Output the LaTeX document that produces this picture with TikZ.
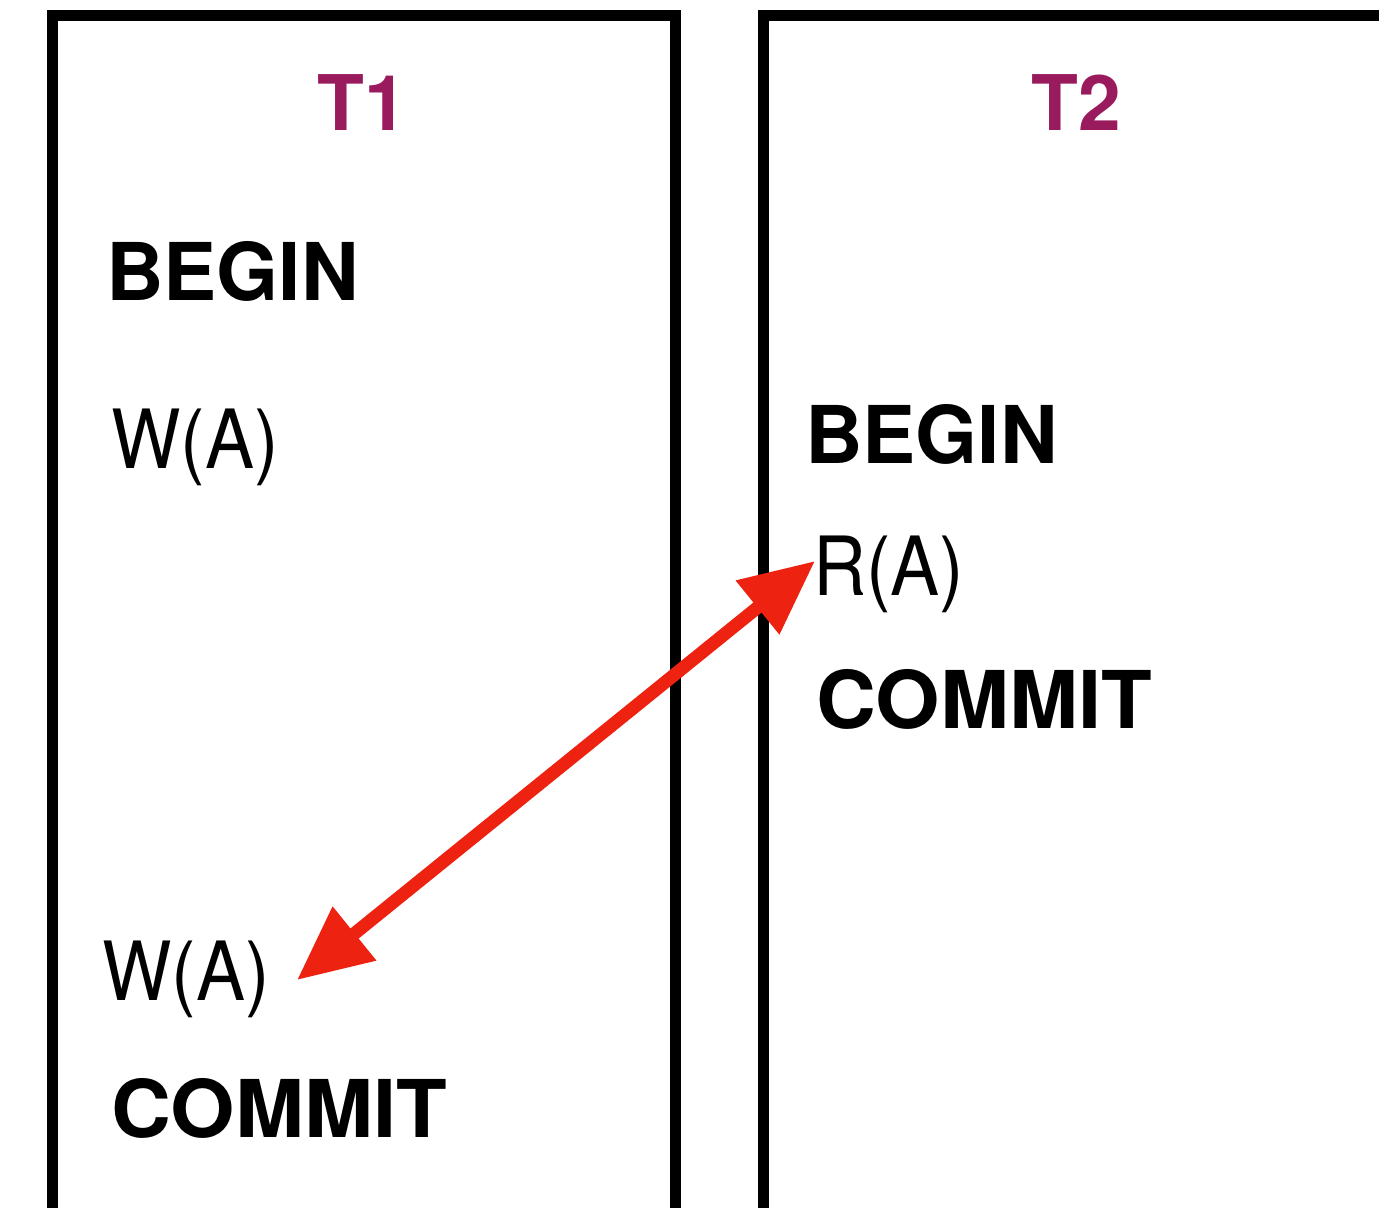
\documentclass[tikz,border=0pt]{standalone}
\usepackage{fontspec}
\setmainfont{TeX Gyre Heros}
\newfontfamily\narrowreg[FakeStretch=0.9]{TeX Gyre Heros}
\newfontfamily\widebold[FakeStretch=1.04]{TeX Gyre Heros}
\usetikzlibrary{arrows.meta}
\definecolor{tpurple}{RGB}{154,26,94}
\definecolor{ared}{RGB}{238,34,17}
\begin{document}
\begin{tikzpicture}[x=1bp,y=-1bp,
  frame/.style={line width=11bp, line join=miter, black},
  title/.style={inner sep=0pt, anchor=base, text=tpurple, font=\fontsize{77}{90}\selectfont\bfseries},
  kw/.style={inner sep=0pt, anchor=base west, font=\fontsize{80}{96}\selectfont\bfseries},
  kwwide/.style={inner sep=0pt, anchor=base west, font=\widebold\fontsize{80}{96}\selectfont\bfseries},
  op/.style={inner sep=0pt, anchor=base west, font=\narrowreg\fontsize{82}{96}\selectfont},
  conflict/.style={ared, line width=13bp, {Triangle[length=74bp,width=66bp]}-{Triangle[length=74bp,width=66bp]}}
]
\useasboundingbox (0,0) rectangle (1379,1207);
% transaction frames
\draw[frame] (52,1230) -- (52,15) -- (675,15) -- (675,1230);
\draw[frame] (763,1230) -- (763,15) -- (1400,15);
% titles
\node[title] (t1) at (362,130) {T1};
\node[title] (t2) at (1076,130) {T2};
% T1 operations
\node[kw] (b1) at (106,300) {BEGIN};
\node[op] (w1) at (111,468) {W(A)};
\node[op] (w2) at (102,1000) {W(A)};
\node[kwwide] (c1) at (111,1137) {COMMIT};
% T2 operations
\node[kw] (b2) at (805,463) {BEGIN};
\node[op] (r2) at (813,595) {R(A)};
\node[kwwide] (c2) at (816,728) {COMMIT};
% conflict arrow
\coordinate (p1) at (297,980);
\coordinate (p2) at (815,561);
\draw[conflict] (p1) -- (p2);
\end{tikzpicture}
\end{document}
